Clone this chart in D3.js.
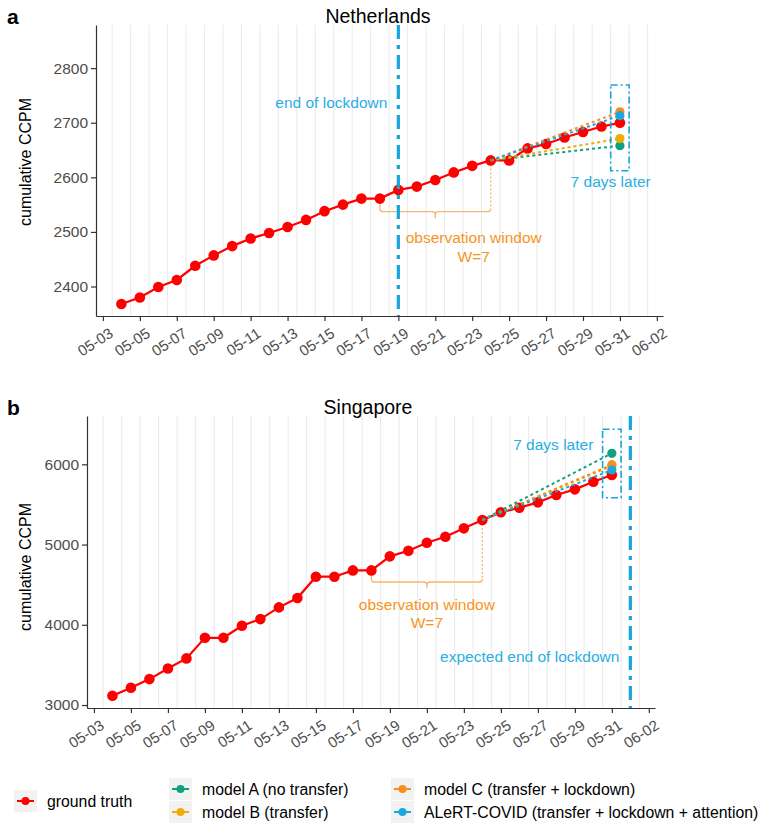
<!DOCTYPE html>
<html>
<head>
<meta charset="utf-8">
<script src="https://cdn.jsdelivr.net/npm/d3@7"></script>
<style>
  body { margin: 0; background: #fff; }
  text { font-family: "Liberation Sans", Arial, sans-serif; }
</style>
</head>
<body>
<svg id="chart" width="765" height="824"></svg>
<script>
// observed days (2020)
const dates = ["05-04", "05-05", "05-06", "05-07", "05-08", "05-09", "05-10", "05-11", "05-12", "05-13",
  "05-14", "05-15", "05-16", "05-17", "05-18", "05-19", "05-20", "05-21", "05-22", "05-23",
  "05-24", "05-25", "05-26", "05-27", "05-28", "05-29", "05-30", "05-31"];
const xTicks = ["05-03", "05-05", "05-07", "05-09", "05-11", "05-13", "05-15", "05-17", "05-19", "05-21",
  "05-23", "05-25", "05-27", "05-29", "05-31", "06-02"];

// ground truth, cumulative CCPM
const nlTruth = [2368, 2380, 2399, 2412, 2438, 2457, 2474, 2488, 2498, 2509, 2522, 2538, 2550, 2561,
  2561, 2577, 2583, 2595, 2609, 2621, 2631, 2631, 2653, 2661, 2673, 2683, 2693, 2700];
const sgTruth = [3115, 3215, 3323, 3456, 3581, 3838, 3838, 3988, 4071, 4217, 4333, 4599, 4599, 4678,
  4678, 4853, 4923, 5023, 5097, 5202, 5306, 5402, 5459, 5526, 5617, 5688, 5783, 5867];

// model forecasts made on 05-24 for 05-31
const models = ["model A (no transfer)", "model B (transfer)", "model C (transfer + lockdown)",
  "ALeRT-COVID (transfer + lockdown + attention)"];
const nlPred = [2658, 2671, 2720, 2713];
const sgPred = [6137, 5980, 5995, 5929];

const nlYTicks = [2400, 2500, 2600, 2700, 2800];
const sgYTicks = [3000, 4000, 5000, 6000];

const colors = {
  truth: "#FF0000",
  models: ["#10A081", "#F2AA05", "#F78E1E", "#1AA8DE"],
  blue: "#17A5DC",
  blueText: "#2AAEE3",
  orange: "#F7941D",
  brace: "#F8B56F"
};

const parse = s => d3.timeParse("%Y-%m-%d")("2020-" + s);
const svg = d3.select("#chart");

function drawPanel(cfg) {
  const x = d3.scaleTime()
    .domain([d3.timeHour.offset(parse("05-03"), -9), d3.timeHour.offset(parse("06-02"), 8)])
    .range([cfg.left, cfg.right]);
  const y = d3.scaleLinear().domain(cfg.yDomain).range([cfg.bottom, cfg.top]);
  const g = svg.append("g");

  // vertical grid, half a day off the ticks
  const grid = d3.timeDay.range(parse("05-03"), parse("06-02")).map(d => d3.timeHour.offset(d, 12));
  g.selectAll(".grid").data(grid).join("line")
    .attr("x1", d => x(d)).attr("x2", d => x(d))
    .attr("y1", cfg.top).attr("y2", cfg.bottom)
    .attr("stroke", "#EBEBEB").attr("stroke-width", 1.1);

  // axes
  const xa = g.append("g").attr("transform", `translate(0,${cfg.bottom})`)
    .call(d3.axisBottom(x).tickValues(xTicks.map(parse)).tickFormat(d3.timeFormat("%m-%d"))
      .tickSize(5).tickSizeOuter(0));
  xa.selectAll("text")
    .attr("x", 0).attr("y", 0).attr("dy", "0.71em")
    .attr("text-anchor", "end")
    .attr("transform", "translate(5,11) rotate(-33)")
    .style("font-size", "15px").attr("fill", "#4D4D4D");
  const ya = g.append("g").attr("transform", `translate(${cfg.left},0)`)
    .call(d3.axisLeft(y).tickValues(cfg.yTicks).tickFormat(d3.format("d"))
      .tickSize(5).tickPadding(3).tickSizeOuter(0));
  ya.selectAll("text").style("font-size", "15.5px").attr("fill", "#4D4D4D");
  g.selectAll(".domain, .tick line").attr("stroke", "#333").attr("stroke-width", 1.2);

  g.append("text")
    .attr("transform", `translate(31,${cfg.labelY}) rotate(-90)`)
    .attr("text-anchor", "middle")
    .style("font-size", "16px")
    .text("cumulative CCPM");
  g.append("text")
    .attr("x", cfg.titleX).attr("y", cfg.top - 2)
    .attr("text-anchor", "middle")
    .style("font-size", "19.5px")
    .text(cfg.title);
  g.append("text")
    .attr("x", 7).attr("y", cfg.top - 1)
    .style("font-size", "21px").style("font-weight", "bold")
    .text(cfg.tag);

  const pts = dates.map((d, i) => ({ date: parse(d), v: cfg.truth[i] }));
  const start = pts[dates.indexOf("05-24")];
  const end = parse("05-31");

  // observation window brace
  const a = cfg.ann;
  const x0 = x(parse("05-18")), x1 = x(parse("05-24")), xm = x(parse("05-21"));
  const yl = y(a.brace), r = 3;
  g.append("path")
    .attr("d", `M${x0},${y(cfg.truth[dates.indexOf("05-18")])} V${yl - r} Q${x0},${yl} ${x0 + r},${yl}
      H${xm - r} Q${xm},${yl} ${xm},${yl + r} V${y(a.braceTip)} M${xm},${yl + r} Q${xm},${yl} ${xm + r},${yl}
      H${x1 - r} Q${x1},${yl} ${x1},${yl - r}`)
    .attr("fill", "none").attr("stroke", colors.brace).attr("stroke-width", 1.3);
  g.append("line")
    .attr("x1", x1).attr("x2", x1).attr("y1", y(start.v)).attr("y2", yl - r)
    .attr("stroke", colors.brace).attr("stroke-width", 1.2).attr("stroke-dasharray", "2,2");
  g.append("text")
    .attr("x", x(a.obsX)).attr("y", y(a.obsY)).attr("dy", "0.35em")
    .attr("text-anchor", "middle").attr("fill", colors.orange)
    .style("font-size", "15.5px").text("observation window");
  g.append("text")
    .attr("x", x(a.obsX)).attr("y", y(a.wY)).attr("dy", "0.35em")
    .attr("text-anchor", "middle").attr("fill", colors.orange)
    .style("font-size", "15.5px").text("W=7");

  // ground truth
  g.append("path").datum(pts)
    .attr("d", d3.line().x(d => x(d.date)).y(d => y(d.v)))
    .attr("fill", "none").attr("stroke", colors.truth).attr("stroke-width", 2.2);
  g.selectAll(".pt").data(pts).join("circle")
    .attr("cx", d => x(d.date)).attr("cy", d => y(d.v)).attr("r", 5.3)
    .attr("fill", colors.truth);

  // forecasts
  g.selectAll(".fl").data(cfg.pred).join("line")
    .attr("x1", x(start.date)).attr("y1", y(start.v))
    .attr("x2", x(end)).attr("y2", d => y(d))
    .attr("stroke", (d, i) => colors.models[i]).attr("stroke-width", 2)
    .attr("stroke-dasharray", "3,3");
  g.selectAll(".fp").data(cfg.pred).join("circle")
    .attr("cx", x(end)).attr("cy", d => y(d)).attr("r", 4.6)
    .attr("fill", (d, i) => colors.models[i]);

  // 7 days later box
  g.append("rect")
    .attr("x", x(d3.timeHour.offset(end, -12))).attr("y", y(a.boxTop))
    .attr("width", x(d3.timeHour.offset(end, 12)) - x(d3.timeHour.offset(end, -12)))
    .attr("height", y(a.boxBottom) - y(a.boxTop))
    .attr("fill", "none").attr("stroke", colors.blue).attr("stroke-width", 1.6)
    .attr("stroke-dasharray", "7,3,2,3");
  g.append("text")
    .attr("x", x(a.laterX)).attr("y", y(a.laterY)).attr("dy", "0.35em")
    .attr("text-anchor", "middle").attr("fill", colors.blueText)
    .style("font-size", "15.5px").text("7 days later");

  // lockdown line
  g.append("line")
    .attr("x1", x(a.vline)).attr("x2", x(a.vline)).attr("y1", cfg.top).attr("y2", cfg.bottom)
    .attr("stroke", colors.blue).attr("stroke-width", 3.2)
    .attr("stroke-dasharray", "14,6,4,6");
  g.append("text")
    .attr("x", x(a.vline) - 11).attr("y", y(a.lockY)).attr("dy", "0.35em")
    .attr("text-anchor", "end").attr("fill", colors.blueText)
    .style("font-size", "15.5px").text(a.lockText);
}

drawPanel({
  tag: "a", title: "Netherlands", titleX: 378,
  left: 96, right: 663, top: 25, bottom: 316, labelY: 162,
  yDomain: [2346, 2879], yTicks: nlYTicks,
  truth: nlTruth, pred: nlPred,
  ann: {
    brace: 2537, braceTip: 2525, obsX: d3.timeHour.offset(parse("05-23"), 2), obsY: 2489, wY: 2455,
    boxTop: 2769, boxBottom: 2612, laterX: d3.timeHour.offset(parse("05-30"), 12), laterY: 2592,
    vline: parse("05-19"), lockY: 2737, lockText: "end of lockdown"
  }
});

drawPanel({
  tag: "b", title: "Singapore", titleX: 368,
  left: 87, right: 655, top: 416, bottom: 708, labelY: 567,
  yDomain: [2963, 6602], yTicks: sgYTicks,
  truth: sgTruth, pred: sgPred,
  ann: {
    brace: 4533, braceTip: 4454, obsX: parse("05-21"), obsY: 4246, wY: 4025,
    boxTop: 6436, boxBottom: 5584, laterX: d3.timeHour.offset(parse("05-27"), 20), laterY: 6240,
    vline: parse("06-01"), lockY: 3601, lockText: "expected end of lockdown"
  }
});

// legend
const legendItems = [{ name: "ground truth", color: colors.truth, x: 14, y: 801 }]
  .concat(models.map((m, i) => ({
    name: m, color: colors.models[i],
    x: i < 2 ? 169 : 391, y: i % 2 === 0 ? 789 : 812
  })));
const lg = svg.append("g").selectAll("g").data(legendItems).join("g")
  .attr("transform", d => `translate(${d.x},${d.y})`);
lg.append("rect").attr("x", 0).attr("y", -11).attr("width", 23).attr("height", 22).attr("fill", "#F2F2F2");
lg.append("line").attr("x1", 3).attr("x2", 20).attr("stroke", d => d.color).attr("stroke-width", 2);
lg.append("circle").attr("cx", 11.5).attr("r", 4).attr("fill", d => d.color);
lg.append("text").attr("x", 33).attr("dy", "0.35em").style("font-size", "15.8px").text(d => d.name);
</script>
</body>
</html>
